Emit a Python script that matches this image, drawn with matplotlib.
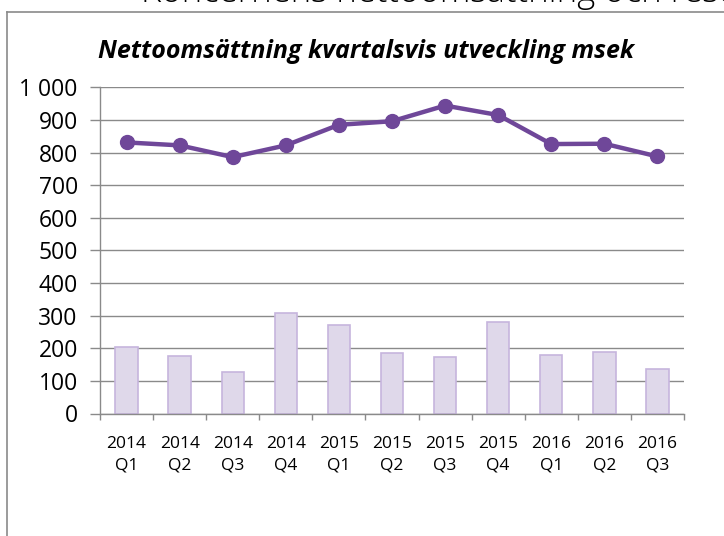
import matplotlib.pyplot as plt
from matplotlib.lines import Line2D
from matplotlib.ticker import FuncFormatter

plt.rcParams['font.family'] = ['Open Sans', 'DejaVu Sans']

# data (msek)
kvartal = ["2014\nQ1", "2014\nQ2", "2014\nQ3", "2014\nQ4",
           "2015\nQ1", "2015\nQ2", "2015\nQ3", "2015\nQ4",
           "2016\nQ1", "2016\nQ2", "2016\nQ3"]
nettoomsattning = [831, 822, 786, 822, 885, 896, 944, 915, 826, 827, 788]
resultat = [204, 176, 126, 309, 270, 187, 174, 279, 179, 189, 136]

lila = "#6F4799"
stapel_fyll = "#DFD8EA"
stapel_kant = "#C6B5DD"
gra = "#8A8A8A"

fig = plt.figure(figsize=(7.24, 5.36), dpi=100)
ax = fig.add_axes([100/724, 1 - 413.5/536, 584/724, 326.2/536])

x = list(range(len(kvartal)))
ax.bar(x, resultat, width=0.42, color=stapel_fyll, edgecolor=stapel_kant,
       linewidth=1.2, zorder=2)
ax.plot(x, nettoomsattning, color=lila, linewidth=3.2, marker="o",
        markersize=10, zorder=3)

ax.set_xlim(-0.5, len(kvartal) - 0.5)
ax.set_ylim(0, 1000)
ax.set_yticks(range(0, 1001, 100))
ax.yaxis.set_major_formatter(FuncFormatter(lambda v, p: f"{int(v):,}".replace(",", " ")))
ax.grid(axis="y", color=gra, linewidth=1.0, zorder=0)
ax.set_axisbelow(True)

# tick marks between categories, labels at centre
ax.set_xticks([i - 0.5 for i in range(len(kvartal) + 1)])
ax.set_xticklabels([])
ax.set_xticks(x, minor=True)
ax.set_xticklabels(kvartal, minor=True, fontsize=12.5, linespacing=1.5)
ax.tick_params(axis="x", which="major", length=4.5, color=gra, width=1.0)
ax.tick_params(axis="x", which="minor", length=0, pad=16)
ax.tick_params(axis="y", length=7, color=gra, width=1.0, labelsize=16.5, pad=9)

for s in ["top", "right"]:
    ax.spines[s].set_visible(False)
for s in ["left", "bottom"]:
    ax.spines[s].set_color(gra)
    ax.spines[s].set_linewidth(1.0)

fig.text(0.506, 1 - 57.5/536, "Nettoomsättning kvartalsvis utveckling msek",
         ha="center", va="baseline", fontsize=18, fontweight="bold",
         fontstyle="italic")

# header text cut by the image edge
fig.text(141/724, 1 - 2.5/536, "Koncernens nettoomsättning och resultat",
         ha="left", va="baseline", fontsize=25, fontweight="light")

# frame around the chart (left and top edges visible)
fig.add_artist(Line2D([6.5/724, 6.5/724], [0, 1 - 12/536], transform=fig.transFigure,
                      color=gra, linewidth=1.2))
fig.add_artist(Line2D([6.5/724, 1], [1 - 12/536, 1 - 12/536], transform=fig.transFigure,
                      color=gra, linewidth=1.2))

fig.savefig("out.png", dpi=100)
